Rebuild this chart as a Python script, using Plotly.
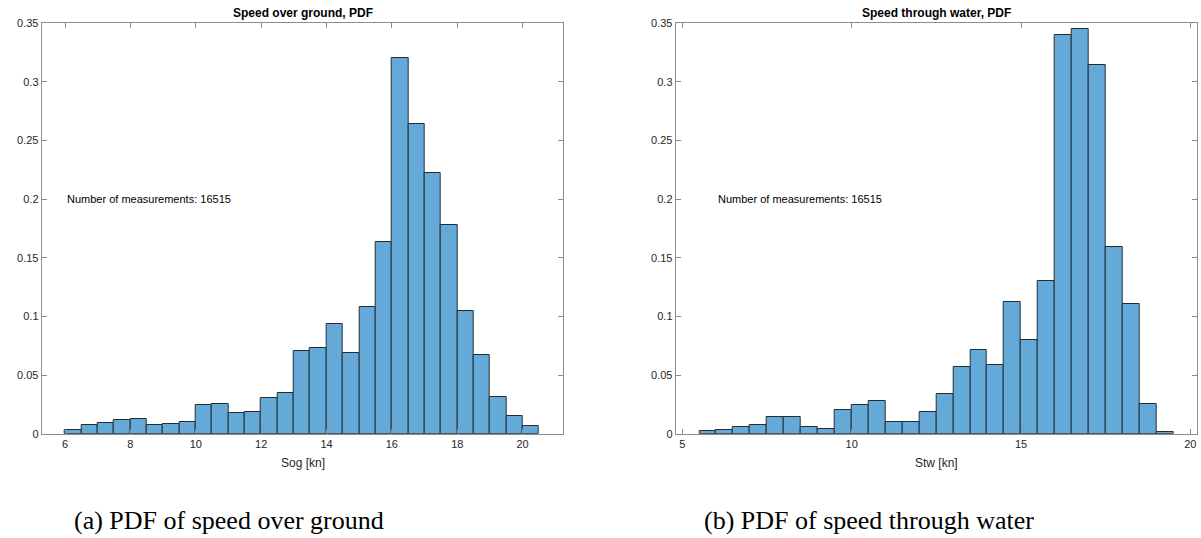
import plotly.graph_objects as go

# Probability density per 0.5 kn bin, speed over ground
sog_bin_left = [6.0, 6.5, 7.0, 7.5, 8.0, 8.5, 9.0, 9.5, 10.0, 10.5, 11.0, 11.5, 12.0, 12.5,
                13.0, 13.5, 14.0, 14.5, 15.0, 15.5, 16.0, 16.5, 17.0, 17.5, 18.0, 18.5,
                19.0, 19.5, 20.0]
sog_pdf = [0.003, 0.0074, 0.0089, 0.0114, 0.0125, 0.0077, 0.0083, 0.0102, 0.0247, 0.0256,
           0.0174, 0.0182, 0.0304, 0.0347, 0.0705, 0.0728, 0.0935, 0.0688, 0.1077, 0.1634,
           0.320, 0.264, 0.2224, 0.1776, 0.1046, 0.0671, 0.0313, 0.0151, 0.0063]

# Probability density per 0.5 kn bin, speed through water
stw_bin_left = [5.5, 6.0, 6.5, 7.0, 7.5, 8.0, 8.5, 9.0, 9.5, 10.0, 10.5, 11.0, 11.5, 12.0,
                12.5, 13.0, 13.5, 14.0, 14.5, 15.0, 15.5, 16.0, 16.5, 17.0, 17.5, 18.0,
                18.5, 19.0]
stw_pdf = [0.002, 0.0029, 0.006, 0.0072, 0.0145, 0.0145, 0.006, 0.0037, 0.0205, 0.0245,
           0.0279, 0.0102, 0.0097, 0.0185, 0.0336, 0.0566, 0.0713, 0.0583, 0.1125, 0.0799,
           0.130, 0.3395, 0.345, 0.314, 0.1588, 0.1108, 0.025, 0.0017]

bin_width = 0.5
n_measurements = 16515

titles = ["Speed over ground, PDF", "Speed through water, PDF"]
xlabels = ["Sog [kn]", "Stw [kn]"]
captions = ["(a) PDF of speed over ground", "(b) PDF of speed through water"]
y_ticks = [0, 0.05, 0.1, 0.15, 0.2, 0.25, 0.3, 0.35]
sog_ticks = [6, 8, 10, 12, 14, 16, 18, 20]
stw_ticks = [5, 10, 15, 20]

W, H = 1201, 538
BAR_FILL = "rgb(100,169,215)"
BAR_EDGE = "rgb(35,45,55)"
AXIS_GREY = "#8c8c8c"
TEXT = "#262626"
SANS = "Liberation Sans, Arial, sans-serif"

# plot areas in pixels: (left, right, top, bottom)
panels = [(41.7, 563.3, 23.0, 433.7), (675.7, 1197.3, 23.0, 433.7)]
xranges = [[5.285, 21.245], [4.805, 20.205]]

fig = go.Figure()

series = [(sog_bin_left, sog_pdf), (stw_bin_left, stw_pdf)]
for i, (lefts, vals) in enumerate(series):
    centers = [l + bin_width / 2 for l in lefts]
    fig.add_trace(go.Bar(
        x=centers, y=vals, width=bin_width,
        marker=dict(color=BAR_FILL, line=dict(color=BAR_EDGE, width=1)),
        xaxis="x" if i == 0 else "x2", yaxis="y" if i == 0 else "y2",
        showlegend=False, hoverinfo="x+y",
    ))

def axis_common():
    return dict(
        showline=True, linecolor=AXIS_GREY, linewidth=1, mirror="ticks",
        ticks="inside", ticklen=5, tickcolor=AXIS_GREY, tickwidth=1,
        showgrid=False, zeroline=False, automargin=False,
        tickfont=dict(family=SANS, size=11, color=TEXT),
    )

layout = dict(
    width=W, height=H, margin=dict(l=0, r=0, t=0, b=0, pad=0),
    paper_bgcolor="white", plot_bgcolor="white", bargap=0,
    showlegend=False,
)

tick_sets = [sog_ticks, stw_ticks]
annotations = []
for i, (l, r, t, b) in enumerate(panels):
    sx = "" if i == 0 else "2"
    xa = axis_common()
    xa.update(domain=[l / W, r / W], range=xranges[i], tickmode="array",
              tickvals=tick_sets[i], ticktext=[str(v) for v in tick_sets[i]],
              anchor="y" + sx)
    ya = axis_common()
    ya.update(domain=[1 - b / H, 1 - t / H], range=[0, 0.35], tickmode="array",
              tickvals=y_ticks, ticktext=[f"{v:g}" for v in y_ticks],
              anchor="x" + sx)
    layout["xaxis" + sx] = xa
    layout["yaxis" + sx] = ya

    cx = (l + r) / 2 / W
    annotations.append(dict(
        text=f"<b>{titles[i]}</b>", x=cx, y=1 - 13 / H, xref="paper", yref="paper",
        xanchor="center", yanchor="middle", showarrow=False,
        font=dict(family=SANS, size=12, color="black")))
    annotations.append(dict(
        text=xlabels[i], x=cx, y=1 - 463 / H, xref="paper", yref="paper",
        xanchor="center", yanchor="middle", showarrow=False,
        font=dict(family=SANS, size=12, color=TEXT)))
    annotations.append(dict(
        text=f"Number of measurements: {n_measurements}", x=6, y=0.2,
        xref="x" + sx, yref="y" + sx, xanchor="left", yanchor="middle",
        showarrow=False, font=dict(family=SANS, size=11, color="black")))

caption_x = [229, 869]
for i, cap in enumerate(captions):
    annotations.append(dict(
        text=cap, x=caption_x[i] / W, y=1 - 520 / H, xref="paper", yref="paper",
        xanchor="center", yanchor="middle", showarrow=False,
        font=dict(family="Liberation Serif, Times New Roman, serif", size=26, color="black")))

layout["annotations"] = annotations
fig.update_layout(**layout)
fig.write_html("out.html")
